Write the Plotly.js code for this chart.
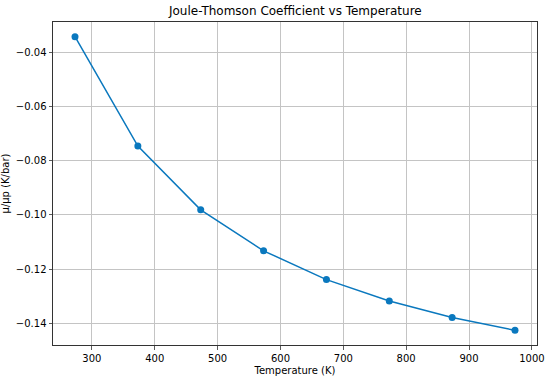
<!DOCTYPE html>
<html>
<head>
<meta charset="utf-8">
<script src="https://cdn.plot.ly/plotly-3.0.1.min.js"></script>
<style>html,body{margin:0;padding:0;background:#fff;}#chart{width:550px;height:380px;}</style>
</head>
<body>
<div id="chart"></div>
<script>
const temperatures = [273.15, 373.15, 473.15, 573.15, 673.15, 773.15, 873.15, 973.15];
const jtCoefficients = [-0.0343, -0.0746, -0.0981, -0.1132, -0.1238, -0.1317, -0.1378, -0.1425];
const xTickValues = [300, 400, 500, 600, 700, 800, 900, 1000];
const yTickValues = [-0.14, -0.12, -0.10, -0.08, -0.06, -0.04];
const yTickLabels = ['\u22120.14', '\u22120.12', '\u22120.10', '\u22120.08', '\u22120.06', '\u22120.04'];

const font = {family: 'DejaVu Sans, sans-serif', size: 10, color: '#000'};
const trace = {
  x: temperatures, y: jtCoefficients, mode: 'lines+markers', type: 'scatter',
  line: {color: '#0a78be', width: 1.5},
  marker: {color: '#0a78be', size: 7}
};
const axisCommon = {
  showline: true, linecolor: '#333', linewidth: 1, mirror: true,
  ticks: 'outside', ticklen: 3.5, tickcolor: '#333', tickwidth: 0.8,
  showgrid: true, gridcolor: '#c4c4c4', gridwidth: 1, zeroline: false,
  tickfont: font
};
const layout = {
  width: 550, height: 380,
  margin: {l: 53, r: 13, t: 22, b: 35},
  paper_bgcolor: '#fff', plot_bgcolor: '#fff',
  showlegend: false,
  title: {text: 'Joule-Thomson Coefficient vs Temperature', font: {family: 'DejaVu Sans, sans-serif', size: 12, color: '#000'}, x: 0.537, xanchor: 'center', y: 0.972, yanchor: 'middle'},
  xaxis: Object.assign({}, axisCommon, {
    range: [238.15, 1008.15], tickvals: xTickValues,
    title: {text: 'Temperature (K)', font: font, standoff: 4}
  }),
  yaxis: Object.assign({}, axisCommon, {
    range: [-0.1479, -0.0289], tickvals: yTickValues, ticktext: yTickLabels,
    title: {text: 'μ/μp (K/bar)', font: font, standoff: 6}
  })
};
Plotly.newPlot('chart', [trace], layout, {staticPlot: true, displayModeBar: false});
</script>
</body>
</html>
